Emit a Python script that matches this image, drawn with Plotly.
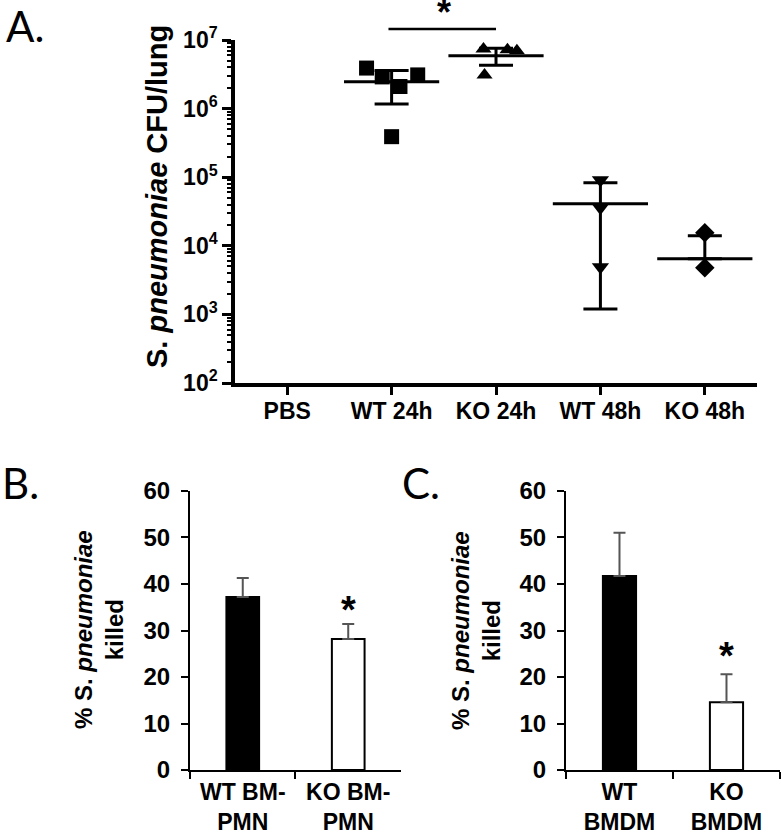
import plotly.graph_objects as go

# ---------------- Panel A data ----------------
cfu_categories = ["PBS", "WT 24h", "KO 24h", "WT 48h", "KO 48h"]
cfu_tickvals = [1e2, 1e3, 1e4, 1e5, 1e6, 1e7]
cfu_ticktext = ["10<sup>2</sup>", "10<sup>3</sup>", "10<sup>4</sup>", "10<sup>5</sup>",
                "10<sup>6</sup>", "10<sup>7</sup>"]
cfu_minor_tickvals = [m * d for d in cfu_tickvals[:-1] for m in range(2, 10)]

wt24_values = [3.9e6, 2.9e6, 2.1e6, 3.1e6, 3.9e5]
wt24_jitter = [-0.24, -0.09, 0.08, 0.25, 0.0]
ko24_values = [7.4e6, 7.2e6, 7.0e6, 3.1e6]
ko24_jitter = [-0.12, 0.11, 0.20, -0.11]
wt48_values = [9.1e4, 3.6e4, 4.9e3]
wt48_jitter = [0.0, 0.0, 0.0]
ko48_values = [1.55e4, 4.8e3]
ko48_jitter = [0.0, 0.0]

group_index = [1, 2, 3, 4]
group_mean = [2.47e6, 5.9e6, 4.1e4, 6.5e3]
group_upper = [3.6e6, 7.6e6, 8.3e4, 1.4e4]
group_lower = [1.17e6, 4.3e6, 1.2e3, 6.5e3]

# ---------------- Panel B / C data ----------------
pmn_categories = ["WT BM-<br>PMN", "KO BM-<br>PMN"]
pmn_values = [37.2, 28.2]
pmn_errors = [4.1, 3.2]

bmdm_categories = ["WT<br>BMDM", "KO<br>BMDM"]
bmdm_values = [41.7, 14.6]
bmdm_errors = [9.3, 6.0]

bar_colors = ["black", "white"]

FONT = "Liberation Sans, Arial, sans-serif"

fig = go.Figure()

for vals, jit, idx, sym, size in [
    (wt24_values, wt24_jitter, 1, "square", 15),
    (ko24_values, ko24_jitter, 2, "triangle-up", 14),
    (wt48_values, wt48_jitter, 3, "triangle-down", 15),
    (ko48_values, ko48_jitter, 4, "diamond", 15),
]:
    fig.add_trace(go.Scatter(x=[idx + j for j in jit], y=vals, mode="markers",
                             xaxis="x", yaxis="y",
                             marker=dict(symbol=sym, size=size, color="black"),
                             showlegend=False, cliponaxis=False))

fig.add_trace(go.Scatter(
    x=group_index, y=group_mean, mode="markers", xaxis="x", yaxis="y",
    marker=dict(symbol="line-ew", size=68, line=dict(width=3, color="black"), color="black"),
    error_y=dict(type="data", symmetric=False,
                 array=[u - m for u, m in zip(group_upper, group_mean)],
                 arrayminus=[m - l for m, l in zip(group_mean, group_lower)],
                 color="black", thickness=3, width=17),
    showlegend=False, cliponaxis=False))

fig.add_trace(go.Bar(x=pmn_categories, y=pmn_values, xaxis="x2", yaxis="y2", width=0.31,
                     marker=dict(color=bar_colors, line=dict(color="black", width=2)),
                     error_y=dict(type="data", symmetric=False, array=pmn_errors,
                                  arrayminus=[0, 0], color="#555555", thickness=2, width=6),
                     showlegend=False))
fig.add_trace(go.Bar(x=bmdm_categories, y=bmdm_values, xaxis="x3", yaxis="y3", width=0.31,
                     marker=dict(color=bar_colors, line=dict(color="black", width=2)),
                     error_y=dict(type="data", symmetric=False, array=bmdm_errors,
                                  arrayminus=[0, 0], color="#555555", thickness=2, width=6),
                     showlegend=False))

def bfont(size):
    return dict(family=FONT, size=size, color="black", weight="bold")

common = dict(automargin=False, showgrid=False, zeroline=False, linecolor="black",
              tickcolor="black", showline=True, ticks="outside")

fig.update_layout(
    template="none",
    width=781, height=839,
    margin=dict(l=0, r=0, t=0, b=0, pad=0, autoexpand=False),
    paper_bgcolor="white", plot_bgcolor="white",
    font=dict(family=FONT, color="black"),
    xaxis=dict(domain=[0.3009, 0.9693], range=[-0.5, 4.5], tickvals=[0, 1, 2, 3, 4],
               ticktext=cfu_categories, linewidth=3.5, ticklen=8, tickwidth=3,
               ticklabelstandoff=-3, tickfont=bfont(23), **common),
    yaxis=dict(domain=[0.5435, 0.9523], type="log", range=[2, 7],
               tickvals=cfu_tickvals, ticktext=cfu_ticktext,
               linewidth=3.5, ticklen=9, tickwidth=3,
               minor=dict(tickmode="array", tickvals=cfu_minor_tickvals, ticks="outside",
                          ticklen=4, tickwidth=1.5, tickcolor="black", showgrid=False),
               tickfont=bfont(23), **common),
    xaxis2=dict(domain=[0.2433, 0.5134], anchor="y2", type="category", range=[-0.5, 1.5],
                linewidth=2, tickson="boundaries", ticklen=7, tickwidth=2,
                tickfont=bfont(23), **common),
    yaxis2=dict(domain=[0.0822, 0.4148], anchor="x2", range=[0, 60], dtick=10,
                linewidth=2, ticklen=7, tickwidth=2, ticklabelstandoff=6,
                tickfont=bfont(24), **common),
    xaxis3=dict(domain=[0.7247, 0.9987], anchor="y3", type="category", range=[-0.5, 1.5],
                linewidth=2, tickson="boundaries", ticklen=7, tickwidth=2,
                tickfont=bfont(23), **common),
    yaxis3=dict(domain=[0.0822, 0.4148], anchor="x3", range=[0, 60], dtick=10,
                linewidth=2, ticklen=7, tickwidth=2, ticklabelstandoff=6,
                tickfont=bfont(24), **common),
)

fig.add_shape(type="line", xref="x", yref="paper", x0=0.97, x1=2.0,
              y0=1 - 29 / 839, y1=1 - 29 / 839, line=dict(color="black", width=2.5))

ann = []
ann.append(dict(text="*", xref="x", yref="paper", x=1.5, y=1 - 13 / 839, yanchor="middle",
                showarrow=False, font=bfont(36)))
ann.append(dict(text="*", xref="x2", yref="y2", x=1, y=29.5, yanchor="bottom",
                showarrow=False, font=bfont(38)))
ann.append(dict(text="*", xref="x3", yref="y3", x=1, y=19.5, yanchor="bottom",
                showarrow=False, font=bfont(38)))
for lab, px, py in [("A.", 25, 26), ("B.", 20, 483), ("C.", 421, 483)]:
    ann.append(dict(text=lab, xref="paper", yref="paper", x=px / 781, y=1 - py / 839,
                    xanchor="center", yanchor="middle", showarrow=False,
                    font=dict(family="Lato, Open Sans, sans-serif", size=42, color="black")))
ann.append(dict(text="S. <i>pneumoniae</i> CFU/lung", xref="paper", yref="paper",
                x=157 / 781, y=1 - 197 / 839, textangle=-90, showarrow=False,
                xanchor="center", yanchor="middle", font=bfont(29)))
ann.append(dict(text="% S. <i>pneumoniae</i><br>killed", xref="paper", yref="paper",
                x=99 / 781, y=1 - 630 / 839, textangle=-90, showarrow=False,
                xanchor="center", yanchor="middle", font=bfont(24)))
ann.append(dict(text="% S. <i>pneumoniae</i><br>killed", xref="paper", yref="paper",
                x=476 / 781, y=1 - 630 / 839, textangle=-90, showarrow=False,
                xanchor="center", yanchor="middle", font=bfont(24)))
fig.update_layout(annotations=ann)

post = ("document.body.style.margin='0';"
        "var gd=document.getElementById('{plot_id}');"
        "gd.style.position='absolute';gd.style.left='0px';gd.style.top='0px';")
fig.write_html("out.html", config={"displayModeBar": False}, post_script=post)
